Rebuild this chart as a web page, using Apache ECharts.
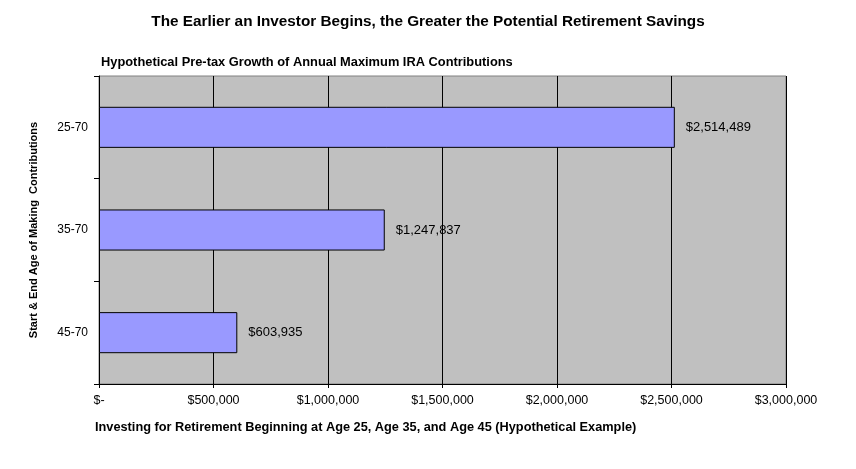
<!DOCTYPE html>
<html><head><meta charset="utf-8">
<script src="https://cdn.jsdelivr.net/npm/echarts@6/dist/echarts.min.js"></script>
<style>html,body{margin:0;padding:0;background:#fff}#c{width:856px;height:469px}</style>
</head><body><div id="c"></div>
<script>
const categories = ['25-70', '35-70', '45-70'];
const values = [2514489, 1247837, 603935];
const xTicks = [0, 500000, 1000000, 1500000, 2000000, 2500000, 3000000];

function money(v) {
  if (v === 0) return '$-';
  return '$' + v.toLocaleString('en-US');
}
const F = '"Liberation Sans", Arial, sans-serif';
const chart = echarts.init(document.getElementById('c'));
chart.setOption({
  animation: false,
  title: [
    { text: 'The Earlier an Investor Begins, the Greater the Potential Retirement Savings', left: 'center', top: 9,
      textStyle: { fontFamily: F, fontSize: 15.3, fontWeight: 'bold', color: '#000' } },
    { text: 'Hypothetical Pre-tax Growth of Annual Maximum IRA Contributions', left: 96, top: 51,
      textStyle: { fontFamily: F, fontSize: 12.85, fontWeight: 'bold', color: '#000' } },
    { text: 'Investing for Retirement Beginning at Age 25, Age 35, and Age 45 (Hypothetical Example)', left: 90, top: 416,
      textStyle: { fontFamily: F, fontSize: 12.75, fontWeight: 'bold', color: '#000' } }
  ],
  grid: { left: 99, top: 76, right: 70, bottom: 85, show: true, backgroundColor: '#C0C0C0', borderColor: '#808080', borderWidth: 1 },
  xAxis: {
    type: 'value', min: xTicks[0], max: xTicks[xTicks.length - 1], interval: 500000,
    axisLine: { show: true, lineStyle: { color: '#000', width: 1 } },
    axisTick: { show: true, length: 4, lineStyle: { color: '#000' } },
    splitLine: { show: true, lineStyle: { color: '#000', width: 1 } },
    axisLabel: { formatter: money, color: '#000', fontFamily: F, fontSize: 12.5, margin: 10 }
  },
  yAxis: {
    type: 'category', data: categories, inverse: true,
    name: 'Start & End Age of Making  Contributions', nameLocation: 'middle', nameGap: 60, nameRotate: 90,
    nameTextStyle: { fontFamily: F, fontSize: 11, fontWeight: 'bold', color: '#000' },
    axisLine: { show: true, lineStyle: { color: '#000', width: 1 } },
    axisTick: { show: true, length: 5, lineStyle: { color: '#000' } },
    axisLabel: { color: '#000', fontFamily: F, fontSize: 12, margin: 11 },
    splitLine: { show: false }
  },
  series: [{
    type: 'bar', data: values, barCategoryGap: '60%',
    itemStyle: { color: '#9999FF', borderColor: '#000', borderWidth: 1 },
    label: { show: true, position: 'right', distance: 11, formatter: p => money(p.value),
      color: '#000', fontFamily: F, fontSize: 13 }
  }]
});
</script></body></html>
